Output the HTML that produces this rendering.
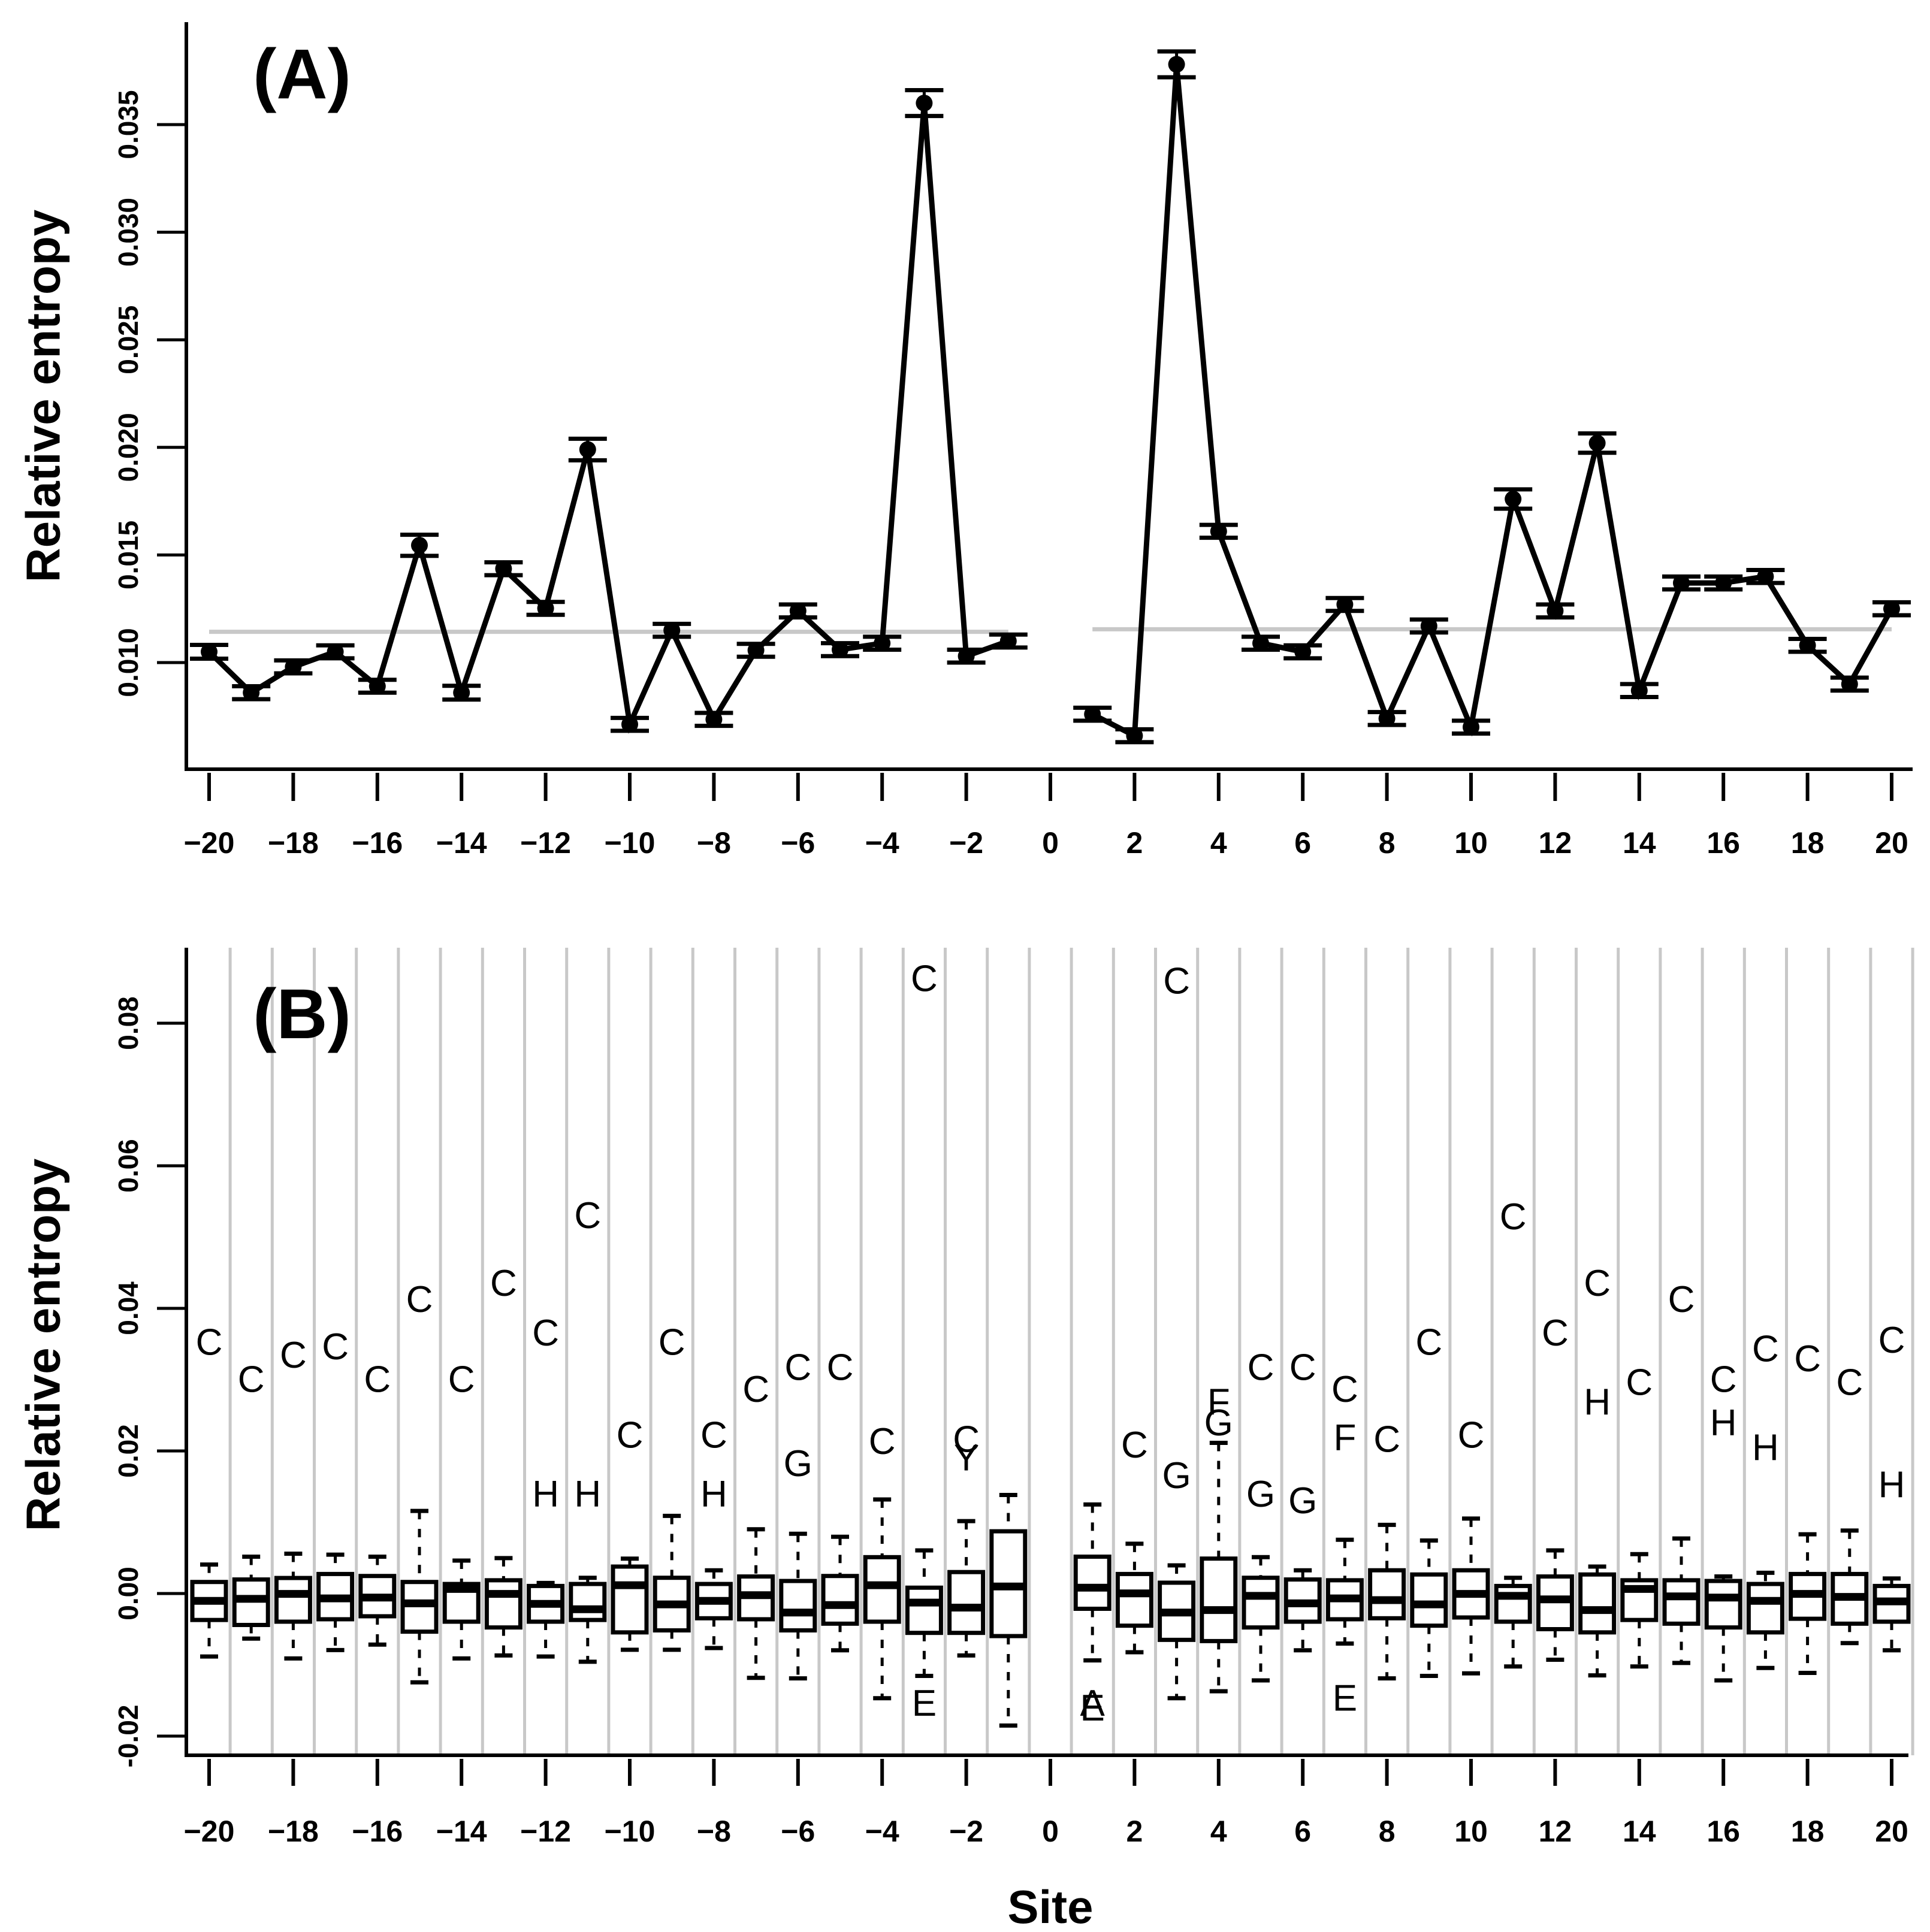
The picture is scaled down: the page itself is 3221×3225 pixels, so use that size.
<!DOCTYPE html>
<html><head><meta charset="utf-8">
<style>
html,body{margin:0;padding:0;background:#fff;}
svg{display:block;}
text{font-family:"Liberation Sans",Arial,sans-serif;}
</style></head>
<body>
<svg id="chart" xmlns="http://www.w3.org/2000/svg" width="3221" height="3225" viewBox="0 0 3221 3225">
<rect width="3221" height="3225" fill="#fff"/>
<g id="panelA"></g>
<g id="panelB"></g>
</svg>
<script>
// ---------- Panel A data ----------
const sitesA = [-20,-19,-18,-17,-16,-15,-14,-13,-12,-11,-10,-9,-8,-7,-6,-5,-4,-3,-2,-1,1,2,3,4,5,6,7,8,9,10,11,12,13,14,15,16,17,18,19,20];
const entropyA = [0.0105,0.0086,0.0098,0.0105,0.0089,0.01545,0.0086,0.01436,0.01252,0.0199,0.00713,0.0115,0.00736,0.01057,0.0124,0.0106,0.0109,0.0360,0.0103,0.0110,
                  0.0076,0.0066,0.0378,0.0161,0.0109,0.0105,0.0127,0.0074,0.0117,0.0070,0.0176,0.0124,0.0202,0.0087,0.0137,0.0137,0.0140,0.0108,0.0090,0.0125];
const errorA = [0.00032,0.0003,0.0003,0.0003,0.0003,0.00049,0.00032,0.0003,0.0003,0.0005,0.0003,0.0003,0.0003,0.0003,0.0003,0.0003,0.0003,0.0006,0.0003,0.0003,
                0.0003,0.0003,0.0006,0.0003,0.0003,0.0003,0.0003,0.0003,0.0003,0.0003,0.00045,0.0003,0.00045,0.0003,0.0003,0.0003,0.0003,0.0003,0.0003,0.0003];
const meanA = [0.01143,0.01155];
const yTicksA = [0.010,0.015,0.020,0.025,0.030,0.035];
const yTickLabelsA = ["0.010","0.015","0.020","0.025","0.030","0.035"];
const xTicks = [-20,-18,-16,-14,-12,-10,-8,-6,-4,-2,0,2,4,6,8,10,12,14,16,18,20];

// ---------- Panel B data (x 0.001) ----------
const sitesB = sitesA;
const whiskerTop = [4.06,5.17,5.59,5.45,5.17,11.59,4.62,4.97,1.48,2.21,4.90,10.89,3.26,9.01,8.38,7.96,13.19,6.05,10.16,13.82,
                    12.49,6.99,3.95,21.13,5.10,3.26,7.54,9.63,7.44,10.51,2.21,6.05,3.78,5.52,7.72,2.39,2.91,8.31,8.83,2.11];
const q3 = [1.62,1.97,2.18,2.74,2.46,1.62,1.34,1.86,1.06,1.34,3.78,2.21,1.34,2.39,1.76,2.46,5.10,0.82,3.01,8.73,
            5.17,2.74,1.52,4.90,2.21,1.97,1.86,3.26,2.67,3.26,1.06,2.39,2.67,1.86,1.86,1.76,1.34,2.74,2.74,1.06];
const medians = [-1.03,-0.75,-0.05,-0.68,-0.57,-1.38,0.64,-0.05,-1.45,-2.21,1.17,-1.52,-1.03,-0.23,-2.67,-1.62,1.17,-1.27,-1.97,0.99,
                 0.82,0.02,-2.67,-2.32,-0.33,-1.38,-0.68,-0.92,-1.52,-0.05,-0.33,-0.82,-2.32,0.64,-0.40,-0.57,-1.03,-0.05,-0.47,-1.10];
const q1 = [-3.71,-4.41,-3.95,-3.61,-3.19,-5.35,-3.95,-4.76,-3.95,-3.71,-5.45,-5.17,-3.47,-3.61,-5.17,-4.23,-3.95,-5.52,-5.52,-5.97,
            -2.14,-4.51,-6.50,-6.67,-4.76,-3.95,-3.61,-3.47,-4.51,-3.36,-3.95,-5.00,-5.45,-3.71,-4.23,-4.76,-5.45,-3.54,-4.23,-3.95];
const whiskerBottom = [-8.83,-6.32,-9.11,-7.93,-7.16,-12.46,-9.11,-8.69,-8.83,-9.57,-7.89,-7.89,-7.65,-11.83,-11.90,-7.96,-14.69,-11.55,-8.69,-18.52,
                       -9.38,-8.24,-14.69,-13.71,-12.18,-7.96,-7.02,-11.90,-11.55,-11.20,-10.23,-9.29,-11.48,-10.23,-9.74,-12.18,-10.44,-11.13,-6.95,-7.96];
const outlierSites = [-20,-19,-18,-17,-16,-15,-14,-13,-12,-12,-11,-11,-10,-9,-8,-8,-7,-6,-6,-5,-4,-3,-3,-2,-2,
                      1,1,2,3,3,4,4,5,5,6,6,7,7,7,8,9,10,11,12,13,13,14,15,16,16,17,17,18,19,20,20];
const outlierLetters = ["C","C","C","C","C","C","C","C","C","H","C","H","C","C","C","H","C","C","G","C","C","C","E","C","Y",
                        "A","E","C","C","G","F","G","C","G","C","G","C","F","E","C","C","C","C","C","C","H","C","C","C","H","C","H","C","C","C","H"];
const outlierValues = [35.2,30.0,33.4,34.6,30.0,41.2,30.0,43.5,36.5,13.9,53.0,13.9,22.2,35.2,22.2,13.9,28.6,31.7,18.2,31.7,21.3,86.2,-15.4,21.6,19.0,
                       -15.4,-16.1,20.8,85.9,16.5,26.8,23.9,31.7,13.9,31.7,13.0,28.6,21.8,-14.7,21.6,35.2,22.2,52.8,36.5,43.5,26.8,29.6,41.2,30.0,23.9,34.3,20.4,32.9,29.6,35.5,15.2];
const yTicksB = [-0.02,0.00,0.02,0.04,0.06,0.08];
const yTickLabelsB = ["-0.02","0.00","0.02","0.04","0.06","0.08"];

// ---------- helpers ----------
const NS = "http://www.w3.org/2000/svg";
function mk(parent, tag, attrs, txt){
  const e = document.createElementNS(NS, tag);
  for (const k in attrs) e.setAttribute(k, attrs[k]);
  if (txt !== undefined) e.textContent = txt;
  parent.appendChild(e);
  return e;
}
const X = s => 1753 + s*70.2;
const yA = v => 1106 - (v - 0.010)/0.005*179.6;
const yB = v => 2660 - v/0.02*238;
const axisX = 311;

function yLabel(parent, cx, cy, txt, size){
  return mk(parent, "text", {x:cx, y:cy, transform:`rotate(-90 ${cx} ${cy})`, "text-anchor":"middle", "dominant-baseline":"central", "font-size":size, "font-weight":"bold", fill:"#000"}, txt);
}

// ---------- Panel A ----------
const A = document.getElementById("panelA");
let ax = mk(A, "path", {d:`M${axisX} 37 V1284 H3192`, fill:"none", stroke:"#000", "stroke-width":6});


yTicksA.forEach((v,i)=>{
  const tk = mk(A, "line", {x1:262, x2:axisX, y1:yA(v), y2:yA(v), stroke:"#000", "stroke-width":5});
  
  
  const lb = yLabel(A, 214, yA(v), yTickLabelsA[i], 46);
  
  
});
xTicks.forEach(s=>{
  const tk = mk(A, "line", {x1:X(s), x2:X(s), y1:1290, y2:1337, stroke:"#000", "stroke-width":6});
  
  
  const lb = mk(A, "text", {x:X(s), y:1424, "text-anchor":"middle", "font-size":50, "font-weight":"bold"}, (s<0?"\u2212"+(-s):String(s)));
  
  
});
let tA = yLabel(A, 72, 661, "Relative entropy", 80);


let pa = mk(A, "text", {x:504, y:164, "text-anchor":"middle", "font-size":118, "font-weight":"bold"}, "(A)");


const m1 = mk(A, "line", {x1:X(-20), x2:X(-1), y1:yA(meanA[0]), y2:yA(meanA[0]), stroke:"#c8c8c8", "stroke-width":7});


const m2 = mk(A, "line", {x1:X(1), x2:X(20), y1:yA(meanA[1]), y2:yA(meanA[1]), stroke:"#c8c8c8", "stroke-width":7});


function seg(from, to, name){
  const pts = [];
  for (let i=from;i<to;i++) pts.push(X(sitesA[i])+","+yA(entropyA[i]));
  const p = mk(A, "polyline", {points:pts.join(" "), fill:"none", stroke:"#000", "stroke-width":9, "stroke-linejoin":"miter"});
  
  
}
seg(0,20,"entropy-line-upstream");
seg(20,40,"entropy-line-downstream");
sitesA.forEach((s,i)=>{
  const x = X(s), v = entropyA[i], e = errorA[i];
  const g = mk(A, "g", {});
  
  
  mk(g, "line", {x1:x, x2:x, y1:yA(v+e), y2:yA(v-e), stroke:"#000", "stroke-width":5});
  mk(g, "line", {x1:x-32, x2:x+32, y1:yA(v+e), y2:yA(v+e), stroke:"#000", "stroke-width":7});
  mk(g, "line", {x1:x-32, x2:x+32, y1:yA(v-e), y2:yA(v-e), stroke:"#000", "stroke-width":7});
  const c = mk(g, "circle", {cx:x, cy:yA(v), r:14, fill:"#000"});
  
  
});

// ---------- Panel B ----------
const B = document.getElementById("panelB");
for (let k=-20;k<=20;k++){
  const gl = mk(B, "line", {x1:X(k+0.5), x2:X(k+0.5), y1:1582, y2:2930, stroke:"#c8c8c8", "stroke-width":5});
  
  
}
let bx = mk(B, "path", {d:`M${axisX} 1582 V2930 H3185`, fill:"none", stroke:"#000", "stroke-width":6});


yTicksB.forEach((v,i)=>{
  const tk = mk(B, "line", {x1:262, x2:axisX, y1:yB(v), y2:yB(v), stroke:"#000", "stroke-width":5});
  
  
  const lb = yLabel(B, 214, yB(v), yTickLabelsB[i], 46);
  
  
});
xTicks.forEach(s=>{
  const tk = mk(B, "line", {x1:X(s), x2:X(s), y1:2936, y2:2981, stroke:"#000", "stroke-width":6});
  
  
  const lb = mk(B, "text", {x:X(s), y:3074, "text-anchor":"middle", "font-size":50, "font-weight":"bold"}, (s<0?"\u2212"+(-s):String(s)));
  
  
});
let tB = yLabel(B, 72, 2245, "Relative entropy", 80);


let xt = mk(B, "text", {x:1753, y:3210, "text-anchor":"middle", "font-size":78, "font-weight":"bold"}, "Site");


let pb = mk(B, "text", {x:504, y:1733, "text-anchor":"middle", "font-size":118, "font-weight":"bold"}, "(B)");



sitesB.forEach((s,i)=>{
  const x = X(s), u = 0.001;
  const g = mk(B, "g", {});
  
  
  const wt = yB(whiskerTop[i]*u), wb = yB(whiskerBottom[i]*u), t3 = yB(q3[i]*u), t1 = yB(q1[i]*u), md = yB(medians[i]*u);
  mk(g, "line", {x1:x, x2:x, y1:wt, y2:t3, stroke:"#000", "stroke-width":5, "stroke-dasharray":"14 16"});
  mk(g, "line", {x1:x, x2:x, y1:t1, y2:wb, stroke:"#000", "stroke-width":5, "stroke-dasharray":"14 16"});
  mk(g, "line", {x1:x-15, x2:x+15, y1:wt, y2:wt, stroke:"#000", "stroke-width":7});
  mk(g, "line", {x1:x-15, x2:x+15, y1:wb, y2:wb, stroke:"#000", "stroke-width":7});
  mk(g, "rect", {x:x-28, y:t3, width:56, height:t1-t3, fill:"#fff", stroke:"#000", "stroke-width":7});
  mk(g, "line", {x1:x-28, x2:x+28, y1:md, y2:md, stroke:"#000", "stroke-width":13});
});
outlierSites.forEach((s,i)=>{
  const t = mk(B, "text", {x:X(s), y:yB(outlierValues[i]*0.001), "text-anchor":"middle", "dominant-baseline":"central", "font-size":62}, outlierLetters[i]);
  
  
});
</script>
</body></html>
